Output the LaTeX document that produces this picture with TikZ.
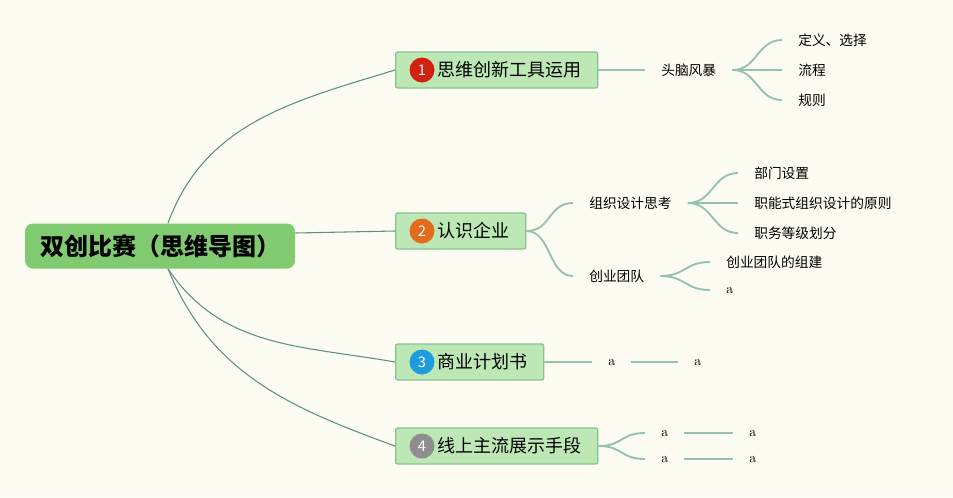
\documentclass[tikz,border=0pt]{standalone}
\usepackage{fontspec}
\usepackage{tikz}
\newfontfamily\cjk{Noto Sans CJK SC}
\definecolor{bgcream}{HTML}{FDFCF2}
\definecolor{rootgreen}{HTML}{80CB70}
\definecolor{boxgreen}{HTML}{BDE8B5}
\definecolor{boxedge}{HTML}{88C392}
\definecolor{mainline}{HTML}{5F8F86}
\definecolor{subline}{HTML}{95C2A8}
\definecolor{numred}{HTML}{D2220F}
\definecolor{numorange}{HTML}{E36B1C}
\definecolor{numblue}{HTML}{1F9CDC}
\definecolor{numgray}{HTML}{8E8E8E}
\tikzset{
  font={\cjk\fontsize{10.3pt}{12pt}\selectfont},
  rootbox/.style={fill=rootgreen, rounded corners=6pt, minimum width=202.5pt,
    minimum height=33.75pt, inner sep=0pt,
    font={\cjk\bfseries\fontsize{18pt}{20pt}\selectfont}},
  mainbox/.style={draw=boxedge, fill=boxgreen, line width=1pt, rounded corners=1.5pt,
    minimum height=27pt, inner xsep=12pt, inner ysep=0pt, anchor=west,
    font={\cjk\fontsize{13.5pt}{16pt}\selectfont}},
  numdot/.style={circle, fill=#1, minimum size=18.75pt, inner sep=0pt, text=white,
    font={\cjk\fontsize{11pt}{12pt}\selectfont}},
  topic/.style={inner xsep=12pt, inner ysep=2pt, anchor=west},
  latin/.style={topic, font={\rmfamily\fontsize{10.3pt}{12pt}\selectfont}},
  trunk/.style={draw=mainline, line width=0.8pt},
  twig/.style={draw=subline, line width=1.4pt}}

\begin{document}
\begin{tikzpicture}[x=0.75pt,y=-0.75pt]
\fill [bgcream] (0,0) rectangle (953,497);
\useasboundingbox (0,0) rectangle (953,497);

\node [rootbox] (root) at (160,246) {双创比赛（思维导图）};

\node [mainbox] (b1) at (395,70) {\hspace*{19.5pt}思维创新工具运用};
\node [mainbox] (b2) at (395,231) {\hspace*{19.5pt}认识企业};
\node [mainbox] (b3) at (395,362) {\hspace*{19.5pt}商业计划书};
\node [mainbox] (b4) at (395,446) {\hspace*{19.5pt}线上主流展示手段};
\node [numdot=numred] (n1) at ([xshift=20.25pt]b1.west) {1};
\node [numdot=numorange] (n2) at ([xshift=20.25pt]b2.west) {2};
\node [numdot=numblue] (n3) at ([xshift=20.25pt]b3.west) {3};
\node [numdot=numgray] (n4) at ([xshift=20.25pt]b4.west) {4};

\draw [trunk] ([xshift=6pt]root.north) to[out=70,in=197] (b1.west);
\draw [trunk] ([yshift=9.75pt]root.east) -- (b2.west);
\draw [trunk] ([xshift=6pt]root.south) to[out=-56,in=170] (b3.west);
\draw [trunk] ([xshift=6pt]root.south) to[out=-68,in=160] (b4.west);

\node [topic] (s1) at (645,70) {头脑风暴};
\node [topic] (l11) at (782,40) {定义、选择};
\node [topic] (l12) at (782,70) {流程};
\node [topic] (l13) at (782,100) {规则};
\draw [twig] (b1.east) -- (s1.west);
\foreach \leaf in {l11,l12,l13}
  \draw [twig] (s1.east) .. controls +(25,0) and +(-25,0) .. (\leaf.west);

\node [topic] (s2a) at (573,203) {组织设计思考};
\node [topic] (s2b) at (573,276) {创业团队};
\node [topic] (l21) at (738,173) {部门设置};
\node [topic] (l22) at (738,203) {职能式组织设计的原则};
\node [topic] (l23) at (738,233) {职务等级划分};
\node [topic] (l24) at (710,262) {创业团队的组建};
\node [latin] (l25) at (710,290) {a};
\foreach \leaf in {s2a,s2b}
  \draw [twig] (b2.east) .. controls +(25,0) and +(-25,0) .. (\leaf.west);
\foreach \leaf in {l21,l22,l23}
  \draw [twig] (s2a.east) .. controls +(25,0) and +(-25,0) .. (\leaf.west);
\foreach \leaf in {l24,l25}
  \draw [twig] (s2b.east) .. controls +(25,0) and +(-25,0) .. (\leaf.west);

\node [latin] (s3) at (592,362) {a};
\node [latin] (l31) at (678,362) {a};
\draw [twig] (b3.east) -- (s3.west);
\draw [twig] (s3.east) -- (l31.west);

\node [latin] (s4a) at (645,433) {a};
\node [latin] (s4b) at (645,459) {a};
\node [latin] (l41) at (733,433) {a};
\node [latin] (l42) at (733,459) {a};
\foreach \leaf in {s4a,s4b}
  \draw [twig] (b4.east) .. controls +(25,0) and +(-25,0) .. (\leaf.west);
\draw [twig] (s4a.east) -- (l41.west);
\draw [twig] (s4b.east) -- (l42.west);
\end{tikzpicture}
\end{document}
